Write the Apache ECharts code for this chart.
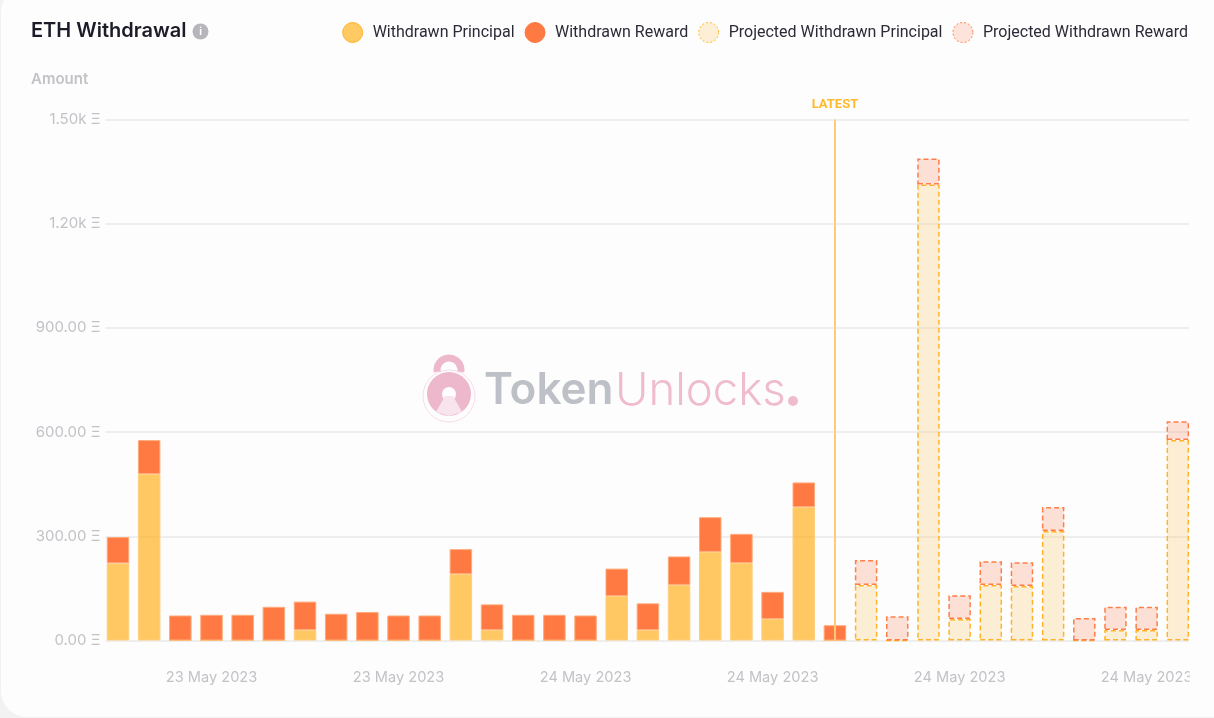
<!DOCTYPE html>
<html><head><meta charset="utf-8">
<script src="https://cdn.jsdelivr.net/npm/echarts@6/dist/echarts.min.js"></script>
<style>
html,body{margin:0;padding:0;width:1214px;height:718px;overflow:hidden;background:#f2f2f2}
#card{position:absolute;left:1px;top:-14px;width:1240px;height:731px;background:#fdfdfd;border-radius:26px}
#c{position:absolute;left:0;top:0;width:1214px;height:718px}
</style></head><body><div id="card"></div><div id="c"></div>
<script>
const categories=["23 May 2023 a","23 May 2023 b","23 May 2023 c","23 May 2023","23 May 2023 e","23 May 2023 f","23 May 2023 g","23 May 2023 h","23 May 2023 i","23 May 2023 ","23 May 2023 k","23 May 2023 l","24 May 2023 a","24 May 2023 b","24 May 2023 c","24 May 2023","24 May 2023 e","24 May 2023 f","24 May 2023 g","24 May 2023 h","24 May 2023 i","24 May 2023 ","24 May 2023 k","24 May 2023 l","24 May 2023 m","24 May 2023 n","24 May 2023 o","24 May 2023  ","24 May 2023 q","24 May 2023 r","24 May 2023 s","24 May 2023 t","24 May 2023 u","24 May 2023   ","24 May 2023 w"];
const withdrawnPrincipal=[222,479,0,0,0,0,30,0,0,0,0,191,30,0,0,0,128,30,160,255,223,62,384,0,null,null,null,null,null,null,null,null,null,null,null];
const withdrawnReward=[76,98,72,74,74,97,82,77,82,72,72,72,74,74,74,72,79,77,82,100,84,78,71,44,null,null,null,null,null,null,null,null,null,null,null];
const projectedPrincipal=[null,null,null,null,null,null,null,null,null,null,null,null,null,null,null,null,null,null,null,null,null,null,null,null,160,0,1313,62,160,157,315,0,30,30,577];
const projectedReward=[null,null,null,null,null,null,null,null,null,null,null,null,null,null,null,null,null,null,null,null,null,null,null,null,72,70,75,68,68,68,69,65,67,67,54];
const yTicks=[0,300,600,900,1200,1500];
const latestCategory=categories[23];
const labelIdx=[3,9,15,21,27,33];

const grey='#c2c2c7';
const chart=echarts.init(document.getElementById('c'),null,{renderer:'canvas'});
const fmt=v=>v>=1000?(v/1000).toFixed(2)+'k Ξ':v.toFixed(2)+' Ξ';
function bar(name,data,fill,border,dashed){
  return {name,type:'bar',stack:'t',xAxisIndex:1,yAxisIndex:1,data,barWidth:22.5,z:3,
    itemStyle:{color:fill,borderColor:border,borderWidth:dashed?1.5:1,borderType:dashed?[5,3]:'solid'}};
}
const s=[
  bar('Withdrawn Principal',withdrawnPrincipal,'rgba(255,176,32,0.7)','#ffcf7c',false),
  bar('Withdrawn Reward',withdrawnReward,'#ff7a42','#ffab7c',false),
  bar('Projected Withdrawn Principal',projectedPrincipal,'rgba(250,178,50,0.2)','#ffb327',true),
  bar('Projected Withdrawn Reward',projectedReward,'rgba(250,110,60,0.2)','#ff7d48',true)
];
s[1].markLine={silent:true,symbol:'none',animation:false,z:6,
  lineStyle:{color:'#ffcb78',width:2,type:'solid'},
  label:{show:true,position:'end',formatter:'LATEST',color:'#ffb92e',fontFamily:'Roboto',fontSize:13,fontWeight:'bold',distance:8},
  data:[[{xAxis:latestCategory,yAxis:0},{xAxis:latestCategory,yAxis:1500}]]};
const legendStyles=[['#ffc964','#ffb327','solid'],['#ff7a42','#ff7a42','solid'],['#fdefd6','#ffb327',[2,2]],['#fde3da','#ff7d48',[2,2]]];
chart.setOption({
  animation:false,
  textStyle:{fontFamily:'Inter'},
  title:{text:'ETH Withdrawal',left:26,top:16,textStyle:{fontFamily:'Inter',fontSize:20,fontWeight:600,color:'#1c1c28'}},
  legend:{right:21,top:17,itemWidth:20,itemHeight:20,itemGap:10,icon:'circle',
    data:s.map((x,i)=>({name:x.name,itemStyle:{color:legendStyles[i][0],borderColor:legendStyles[i][1],borderWidth:1,borderType:legendStyles[i][2]}})),
    textStyle:{fontFamily:'Roboto',fontSize:16,color:'#2b2b38',padding:[0,0,0,5]},selectedMode:false},
  grid:[
    {left:105.5,top:119.5,width:1083.5,height:521},
    {left:102.4,top:119.5,width:1091,height:521}
  ],
  xAxis:[
    {type:'category',gridIndex:0,data:categories,show:false},
    {type:'category',gridIndex:1,data:categories,axisLine:{show:false},axisTick:{show:false},
     axisLabel:{margin:30,color:grey,fontFamily:'Inter',fontSize:14.6,hideOverlap:false,formatter:v=>v.slice(0,11),
       interval:(i)=>labelIdx.includes(i)}}
  ],
  yAxis:[
    {type:'value',gridIndex:0,min:0,max:1500,interval:300,
     axisLine:{show:false},axisTick:{show:false},
     axisLabel:{margin:5,color:grey,fontFamily:'Inter',fontSize:15,formatter:fmt},
     splitLine:{lineStyle:{color:'#e8e8ea',width:1.5}}},
    {type:'value',gridIndex:1,min:0,max:1500,interval:300,show:false}
  ],
  series:s,
  graphic:[
    {type:'text',x:31,y:72,z:10,style:{text:'Amount',fill:grey,font:'600 15px Inter'}},
    {type:'circle',shape:{cx:200.5,cy:31.5,r:8},style:{fill:'#b5b5bb'},z:10},
    {type:'text',x:200.5,y:31.5,z:11,style:{text:'i',fill:'#fff',font:'bold 10px Inter',align:'center',verticalAlign:'middle'}},
    {type:'rect',shape:{x:1189.5,y:662,width:30,height:30},style:{fill:'#fdfdfd'},z:50},
    {type:'circle',shape:{cx:449,cy:396,r:26},style:{fill:'none',stroke:'#f6dce6',lineWidth:1},z:1},
    {type:'circle',shape:{cx:449,cy:394,r:22},style:{fill:'#edb7cc'},z:1},
    {type:'arc',shape:{cx:449,cy:370,r:12,startAngle:Math.PI*0.95,endAngle:Math.PI*2.05,clockwise:true},style:{fill:'none',stroke:'#edb7cc',lineWidth:7},z:1},
    {type:'circle',shape:{cx:449,cy:394,r:7},style:{fill:'#fdfdfd'},z:2},
    {type:'polygon',shape:{points:[[445,396],[453,396],[462,412],[449,416],[436,412]]},style:{fill:'#f8e4ec'},z:2},
    {type:'text',x:484,y:391,z:1,style:{text:'Token',fill:'#bdc0c6',font:'600 44px Inter',verticalAlign:'middle'}},
    {type:'text',x:615,y:391,z:1,style:{text:'Unlocks',fill:'#efbccf',font:'300 45.5px Inter',verticalAlign:'middle'}},
    {type:'circle',shape:{cx:793,cy:401,r:5},style:{fill:'#efbccf'},z:1}
  ]
});
</script></body></html>
